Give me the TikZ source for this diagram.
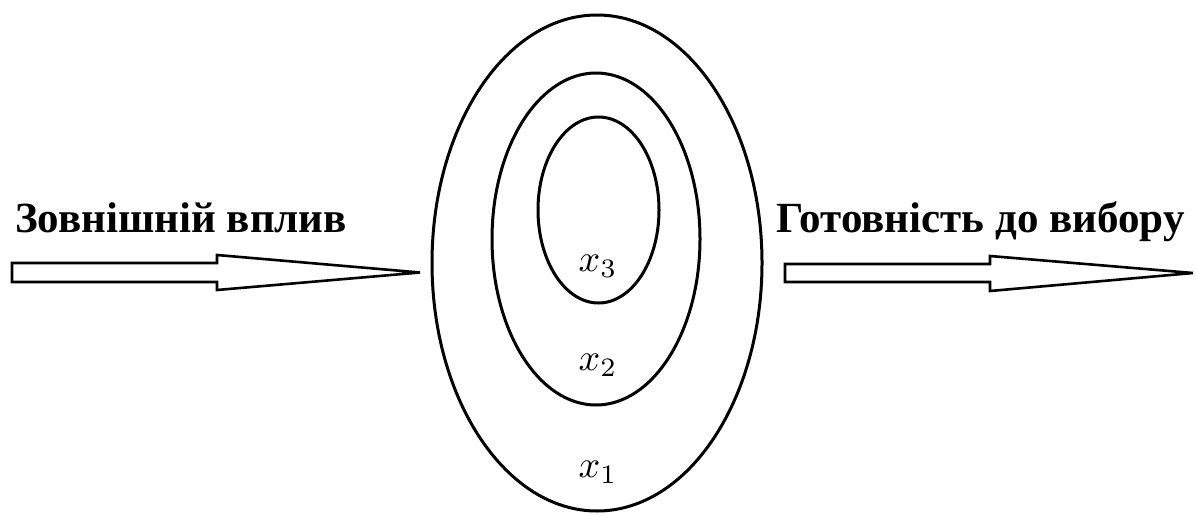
\documentclass[tikz,border=0pt]{standalone}
\usepackage{graphicx}
\usepackage{fontspec}
\setmainfont{Liberation Serif}
\begin{document}
\begin{tikzpicture}[x=1pt,y=-1pt,
  ring/.style={line width=3pt},
  bigarrow/.style={line width=2.6pt, line join=miter, fill=white},
  lbl/.style={font=\fontsize{43}{47}\selectfont\bfseries, inner sep=0pt},
  xl/.style={inner sep=0pt}]
\useasboundingbox (0,0) rectangle (1196,514);
% ellipses
\coordinate (c1) at (597,263);
\coordinate (c2) at (596,239);
\coordinate (c3) at (598.5,210);
\draw[ring] (c1) ellipse [x radius=165, y radius=248];
\draw[ring] (c2) ellipse [x radius=104, y radius=166];
\draw[ring] (c3) ellipse [x radius=60.5, y radius=93];
\node[xl] (x3) at (598,266) {\scalebox{3.8}{$x_3$}};
\node[xl] (x2) at (598,365) {\scalebox{3.8}{$x_2$}};
\node[xl] (x1) at (598,472) {\scalebox{3.8}{$x_1$}};
% arrows
\draw[bigarrow] (12,263) -- (217,263) -- (217,255) -- (420,272.5) -- (217,290) -- (217,282) -- (12,282) -- cycle;
\draw[bigarrow] (785,264) -- (990,264) -- (990,256) -- (1193,273) -- (990,291) -- (990,282) -- (785,282) -- cycle;
% labels
\node[lbl, anchor=base west] (in) at (15,232) {Зовнішній вплив};
\node[lbl, anchor=base west] (out) at (776,232) {Готовність до вибору};
\end{tikzpicture}
\end{document}
